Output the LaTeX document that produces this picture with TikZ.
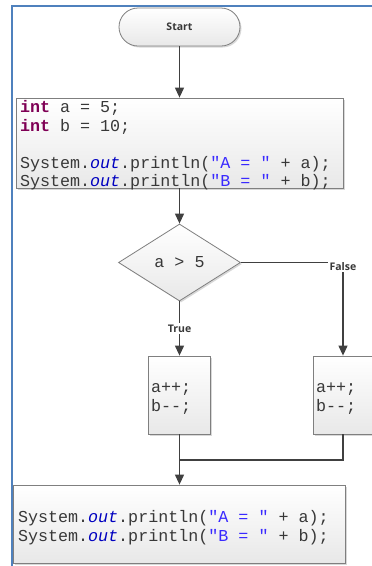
\documentclass[tikz,border=0pt]{standalone}
\usepackage{fontspec}
\setmainfont{Open Sans}
\setmonofont{Liberation Mono}
\usetikzlibrary{shapes.geometric,arrows.meta,shadows}
\definecolor{kw}{HTML}{7F0055}
\definecolor{fld}{HTML}{0000C0}
\definecolor{str}{HTML}{3A2AFF}
\definecolor{frameblue}{HTML}{4F81BD}
\definecolor{linegray}{HTML}{404040}
\definecolor{txt}{HTML}{383838}
\definecolor{boxline}{HTML}{7F7F7F}
\newcommand{\codelines}[2][6pt]{\spaceskip=0pt\relax\xspaceskip=0pt\relax\begin{tabular}{@{}l@{}}#2\\[-#1]\end{tabular}}
\begin{document}
\begin{tikzpicture}[x=1pt,y=-1pt,
  box/.style={draw=boxline, line width=0.8pt, top color=white, bottom color=black!9,
    drop shadow={shadow xshift=1.5pt,shadow yshift=-1.5pt,opacity=0.3},
    inner sep=0pt, text=txt},
  code/.style={font=\ttfamily\fontsize{16.7}{18.5}\selectfont},
  arr/.style={draw=linegray, line width=1.2pt, -{Triangle[width=9pt,length=10pt]}},
  ln/.style={draw=linegray, line width=1.2pt},
  lbl/.style={fill=white, inner sep=1.5pt, font=\bfseries\fontsize{10.5}{12}\selectfont, text=txt}]
\useasboundingbox (0,0) rectangle (372,566);
\fill[white] (0,0) rectangle (372,566);
\draw[frameblue, line width=2pt] (11.5,567) -- (11.5,5.5) -- (373,5.5);

\node[box, rounded corners=19pt, minimum width=121pt, minimum height=38pt,
  font=\bfseries\fontsize{10.5}{12}\selectfont] (start) at (179.5,27) {Start};

\node[box, code, minimum width=327pt, minimum height=90pt, text width=319pt, inner xsep=4pt]
  (init) at (179.5,143)
  {\noindent\codelines[6pt]{{\bfseries\color{kw}int} a = 5;\\
   {\bfseries\color{kw}int} b = 10;\\
   \\
   System.{\itshape\color{fld}out}.println({\color{str}"A = "} + a);\\
   System.{\itshape\color{fld}out}.println({\color{str}"B = "} + b);}};

\node[box, diamond, minimum width=122pt, minimum height=77pt,
  font=\ttfamily\fontsize{16.7}{18.5}\selectfont] (cond) at (179.5,262.5) {a > 5};

\node[box, code, minimum width=62pt, minimum height=78pt, text width=56pt, inner xsep=3pt]
  (inc1) at (179,395) {\noindent\codelines[7pt]{a++;\\b--;}};
\node[box, code, minimum width=60pt, minimum height=78pt, text width=54pt, inner xsep=3pt]
  (inc2) at (343,395) {\noindent\codelines[7pt]{a++;\\b--;}};

\node[box, code, minimum width=332pt, minimum height=78pt, text width=322pt, inner xsep=5pt]
  (out) at (179,524)
  {\noindent\codelines[9pt]{System.{\itshape\color{fld}out}.println({\color{str}"A = "} + a);\\
   System.{\itshape\color{fld}out}.println({\color{str}"B = "} + b);}};

\coordinate (merge) at (179.5,460);

\draw[arr] (start) -- (init);
\draw[arr] (init.south -| cond.north) -- (cond.north);
\draw[arr] (cond.south) -- node[lbl] {True} (inc1.north -| cond.south);
\draw[arr] (cond.east) -| node[lbl, pos=0.5, yshift=-4pt] {False} (inc2.north);
\draw[ln] (inc1.south -| merge) -- (merge);
\draw[ln] (inc2.south) |- (merge);
\draw[arr] (merge) -- (out.north -| merge);
\end{tikzpicture}
\end{document}
